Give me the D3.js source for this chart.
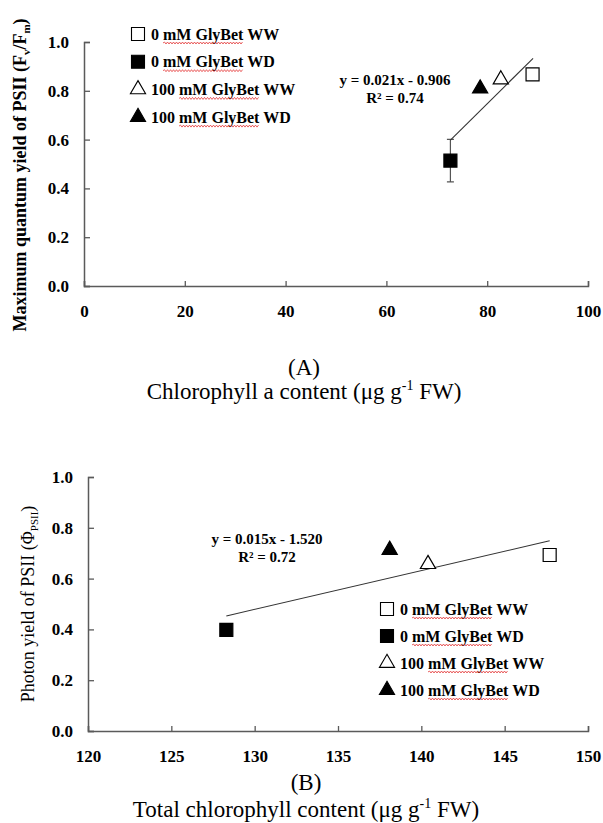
<!DOCTYPE html>
<html>
<head>
<meta charset="utf-8">
<script src="https://cdn.jsdelivr.net/npm/d3@7"></script>
<style>
  body { margin: 0; background: #fff; }
  text { font-family: "Liberation Serif", "Times New Roman", serif; }
</style>
</head>
<body>
<script>
// series shared by both panels
const seriesNames = ["0 mM GlyBet WW", "0 mM GlyBet WD", "100 mM GlyBet WW", "100 mM GlyBet WD"];
const seriesShapes = ["square", "square", "triangle", "triangle"];
const seriesFilled = [false, true, false, true];

// panel A : chlorophyll a vs Fv/Fm
const chlA = [89.0, 72.7, 82.7, 78.6];
const fvfm = [0.867, 0.514, 0.846, 0.809];
const fvfmErr = [0, 0.087, 0, 0];
const fitA = [[72.7, 0.598], [89.1, 0.933]];
const eqA = ["y = 0.021x - 0.906", "R² = 0.74"];
const xTicksA = [0, 20, 40, 60, 80, 100];

// panel B : total chlorophyll vs PhiPSII
const totalChl = [147.7, 128.3, 140.4, 138.1];
const phiPSII = [0.693, 0.398, 0.657, 0.713];
const fitB = [[128.3, 0.453], [147.7, 0.749]];
const eqB = ["y = 0.015x - 1.520", "R² = 0.72"];
const xTicksB = [120, 125, 130, 135, 140, 145, 150];

const yTicks = [0, 0.2, 0.4, 0.6, 0.8, 1.0];

const svg = d3.select("body")
  .append("svg")
  .attr("width", 603)
  .attr("height", 823);

function symbolPath(shape) {
  if (shape === "square") return d3.symbol().type(d3.symbolSquare).size(169)();
  return d3.symbol().type(d3.symbolTriangle).size(100)();
}

function drawAxes(xScale, yScale, xTicks, xFormat) {
  const gx = svg.append("g")
    .attr("transform", `translate(0,${yScale(0)})`)
    .call(d3.axisBottom(xScale).tickValues(xTicks).tickFormat(xFormat)
      .tickSizeInner(-5).tickSizeOuter(-5).tickPadding(19));
  const gy = svg.append("g")
    .attr("transform", `translate(${xScale.range()[0]},0)`)
    .call(d3.axisLeft(yScale).tickValues(yTicks).tickFormat(d3.format(".1f"))
      .tickSizeInner(-6).tickSizeOuter(-6).tickPadding(15));
  [gx, gy].forEach(g => {
    g.select(".domain").attr("stroke", "#5a5a5a").attr("stroke-width", 1.5);
    g.selectAll(".tick line").attr("stroke", "#5a5a5a").attr("stroke-width", 1.3);
    g.selectAll(".tick text")
      .attr("fill", "#000")
      .style("font-family", '"Liberation Serif", serif')
      .style("font-weight", "bold")
      .style("font-size", "17px");
  });
}

function drawPoints(xScale, yScale, xs, ys) {
  svg.append("g")
    .selectAll("path")
    .data(d3.range(xs.length))
    .join("path")
    .attr("d", i => symbolPath(seriesShapes[i]))
    .attr("transform", i => `translate(${xScale(xs[i])},${yScale(ys[i])})`)
    .attr("fill", i => seriesFilled[i] ? "#000" : "#fff")
    .attr("stroke", "#000")
    .attr("stroke-width", 1.2);
}

function drawFit(xScale, yScale, fit) {
  svg.append("path")
    .datum(fit)
    .attr("d", d3.line().x(d => xScale(d[0])).y(d => yScale(d[1])))
    .attr("fill", "none")
    .attr("stroke", "#333")
    .attr("stroke-width", 1.1);
}

function drawEquation(lines, cx, cy) {
  svg.append("g")
    .selectAll("text")
    .data(lines)
    .join("text")
    .attr("x", cx)
    .attr("y", (d, i) => cy + i * 18)
    .attr("dy", "0.35em")
    .attr("text-anchor", "middle")
    .style("font-weight", "bold")
    .style("font-size", "15px")
    .text(d => d);
}

function squiggle(x0, x1, y) {
  let d = `M${x0},${y}`;
  let up = true;
  for (let x = x0 + 1.5; x <= x1; x += 1.5) {
    d += `L${x},${y + (up ? -1 : 1)}`;
    up = !up;
  }
  return d;
}

function drawLegend(x, y0, step) {
  const g = svg.append("g");
  seriesNames.forEach((name, i) => {
    const y = y0 + i * step;
    g.append("path")
      .attr("d", symbolPath(seriesShapes[i]))
      .attr("transform", `translate(${x},${y})`)
      .attr("fill", seriesFilled[i] ? "#000" : "#fff")
      .attr("stroke", "#000")
      .attr("stroke-width", 1.1);
    const t = g.append("text")
      .attr("x", x + 13)
      .attr("y", y)
      .attr("dy", "0.35em")
      .style("font-weight", "bold")
      .style("font-size", "16px")
      .text(name);
    // red spell-check underline under "mM GlyBet"
    const start = name.indexOf("mM");
    const node = t.node();
    const sx = x + 13 + node.getSubStringLength(0, start);
    const sw = node.getSubStringLength(start, 9);
    g.append("path")
      .attr("d", squiggle(sx, sx + sw, y + 9))
      .attr("fill", "none")
      .attr("stroke", "#e02020")
      .attr("stroke-width", 0.7);
  });
}

function drawTitle(label, title, cx, yLabel, yTitle) {
  svg.append("text")
    .attr("x", cx).attr("y", yLabel)
    .attr("text-anchor", "middle")
    .style("font-size", "23px")
    .text(label);
  const t = svg.append("text")
    .attr("x", cx).attr("y", yTitle)
    .attr("text-anchor", "middle")
    .style("font-size", "23px");
  t.append("tspan").text(title + " (μg g");
  t.append("tspan").attr("dy", -9).style("font-size", "14px").text("-1");
  t.append("tspan").attr("dy", 9).text(" FW)");
}

// ---------- Panel A ----------
const xA = d3.scaleLinear().domain([0, 100]).range([84, 588]);
const yA = d3.scaleLinear().domain([0, 1]).range([286, 42]);
drawAxes(xA, yA, xTicksA, d3.format("d"));

// error bars
const errIdx = d3.range(chlA.length).filter(i => fvfmErr[i] > 0);
svg.append("g")
  .selectAll("path")
  .data(errIdx)
  .join("path")
  .attr("d", i => {
    const x = xA(chlA[i]);
    const yt = yA(fvfm[i] + fvfmErr[i]);
    const yb = yA(fvfm[i] - fvfmErr[i]);
    return `M${x - 3.5},${yt}H${x + 3.5}M${x},${yt}V${yb}M${x - 3.5},${yb}H${x + 3.5}`;
  })
  .attr("fill", "none")
  .attr("stroke", "#555")
  .attr("stroke-width", 1.2);

drawFit(xA, yA, fitA);
drawPoints(xA, yA, chlA, fvfm);
drawEquation(eqA, 395, 80);
drawLegend(138, 34, 27.7);

const yLabA = svg.append("text")
  .attr("transform", "translate(20,175) rotate(-90)")
  .attr("text-anchor", "middle")
  .attr("dy", "0.35em")
  .style("font-weight", "bold")
  .style("font-size", "18px");
yLabA.append("tspan").text("Maximum quantum yield of PSII (F");
yLabA.append("tspan").attr("dy", 4).style("font-size", "11px").text("v");
yLabA.append("tspan").attr("dy", -4).text("/F");
yLabA.append("tspan").attr("dy", 4).style("font-size", "11px").text("m");
yLabA.append("tspan").attr("dy", -4).text(")");

drawTitle("(A)", "Chlorophyll a content", 304, 375, 399);

// ---------- Panel B ----------
const xB = d3.scaleLinear().domain([120, 150]).range([88, 588]);
const yB = d3.scaleLinear().domain([0, 1]).range([731, 477]);
drawAxes(xB, yB, xTicksB, d3.format("d"));
drawFit(xB, yB, fitB);
drawPoints(xB, yB, totalChl, phiPSII);
drawEquation(eqB, 267, 539);
drawLegend(387, 609, 27);

const yLabB = svg.append("text")
  .attr("transform", "translate(28,604) rotate(-90)")
  .attr("text-anchor", "middle")
  .attr("dy", "0.35em")
  .style("font-size", "18px");
yLabB.append("tspan").text("Photon yield of PSII (Φ");
yLabB.append("tspan").attr("dy", 4).style("font-size", "11px").text("PSII");
yLabB.append("tspan").attr("dy", -4).text(")");

drawTitle("(B)", "Total chlorophyll content", 306, 790, 817);
</script>
</body>
</html>
